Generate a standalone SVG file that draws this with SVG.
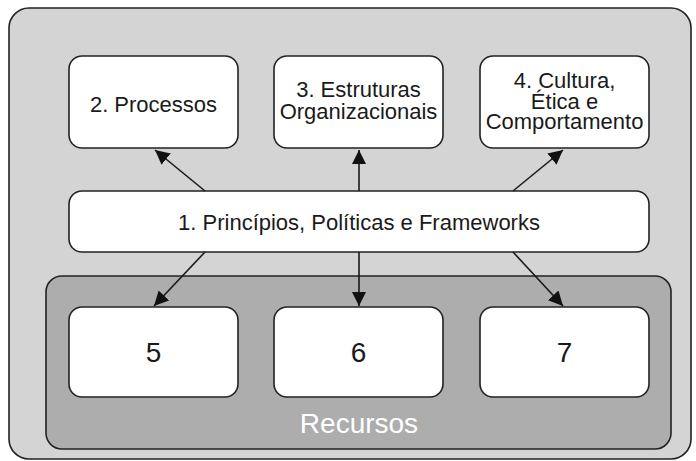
<svg xmlns="http://www.w3.org/2000/svg" width="696" height="461" viewBox="0 0 696 461">
<defs>
<style>
.box{fill:#ffffff;stroke:#222222;stroke-width:1.6}
.t{font-family:"Liberation Sans",Arial,sans-serif;fill:#1a1a1a;text-anchor:middle}
.ln{stroke:#1a1a1a;stroke-width:1.6;fill:none;marker-end:url(#ah)}
</style>
<marker id="ah" viewBox="0 0 10 10" refX="10" refY="5" markerWidth="9" markerHeight="9" markerUnits="strokeWidth" orient="auto">
<path d="M0,0 L10,5 L0,10 z" fill="#111111"/>
</marker>
</defs>
<rect width="696" height="461" fill="#ffffff"/>
<g id="outer">
<rect x="9" y="8" width="682" height="451" rx="20" fill="#d4d4d4" stroke="#222222" stroke-width="1.6"/>
</g>
<g id="recursos">
<rect x="46" y="276" width="625" height="173" rx="16" fill="#adadad" stroke="#222222" stroke-width="1.6"/>
<text class="t" x="359" y="433" font-size="28" style="fill:#ffffff">Recursos</text>
</g>
<g id="n2">
<rect class="box" x="69" y="56" width="169" height="92" rx="13"/>
<text class="t" x="153.5" y="112" font-size="22">2. Processos</text>
</g>
<g id="n3">
<rect class="box" x="274" y="56" width="169" height="92" rx="13"/>
<text class="t" x="358.5" y="97" font-size="22">3. Estruturas</text>
<text class="t" x="358.5" y="119" font-size="22">Organizacionais</text>
</g>
<g id="n4">
<rect class="box" x="480" y="56" width="169" height="92" rx="13"/>
<text class="t" x="564.5" y="88" font-size="22">4. Cultura,</text>
<text class="t" x="564.5" y="108.5" font-size="22">Ética e</text>
<text class="t" x="564.5" y="129" font-size="22">Comportamento</text>
</g>
<g id="n1">
<rect class="box" x="69" y="191" width="580" height="61" rx="13"/>
<text class="t" x="359" y="229.5" font-size="22">1. Princípios, Políticas e Frameworks</text>
</g>
<g id="n5">
<rect class="box" x="69" y="307" width="169" height="90" rx="13"/>
<text class="t" x="153.5" y="362" font-size="28">5</text>
</g>
<g id="n6">
<rect class="box" x="274" y="307" width="169" height="90" rx="13"/>
<text class="t" x="358.5" y="362" font-size="28">6</text>
</g>
<g id="n7">
<rect class="box" x="480" y="307" width="169" height="90" rx="13"/>
<text class="t" x="564.5" y="362" font-size="28">7</text>
</g>
<g id="connectors">
<line class="ln" x1="205" y1="191" x2="155" y2="150"/>
<line class="ln" x1="359" y1="191" x2="359" y2="150"/>
<line class="ln" x1="513" y1="191" x2="563" y2="150"/>
<line class="ln" x1="205" y1="252" x2="154" y2="306"/>
<line class="ln" x1="359" y1="252" x2="359" y2="306"/>
<line class="ln" x1="513" y1="252" x2="563" y2="306"/>
</g>
</svg>
